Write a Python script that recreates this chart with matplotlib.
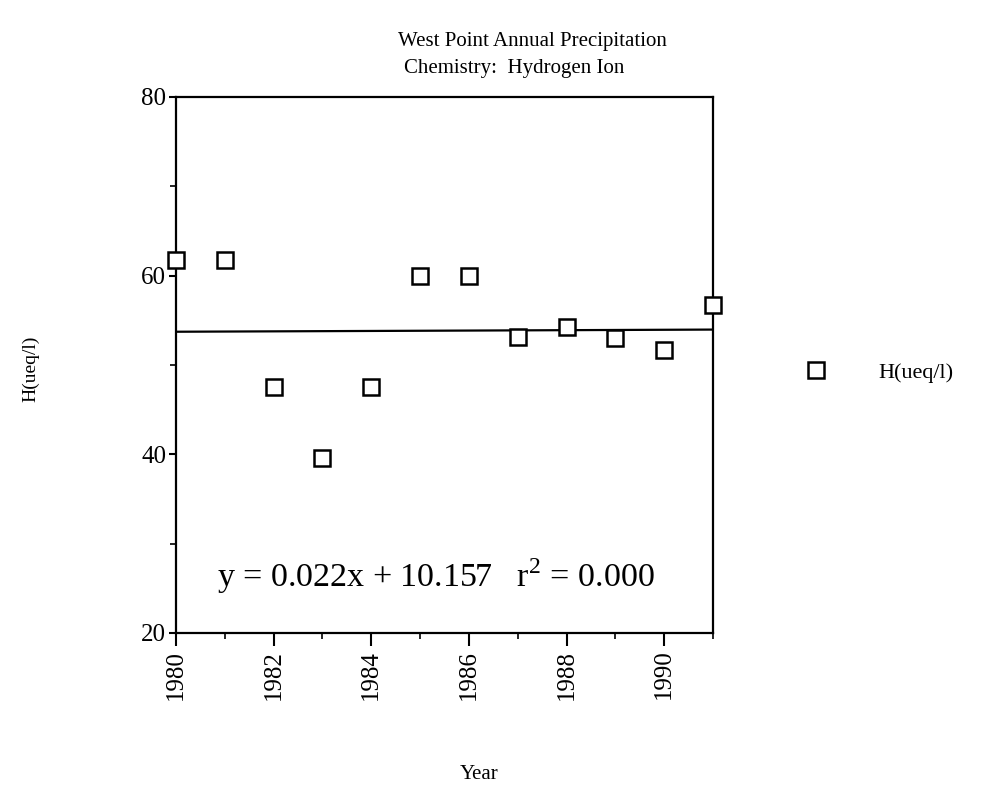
import matplotlib
matplotlib.use("Agg")
import matplotlib.pyplot as plt
from matplotlib.ticker import MultipleLocator

# values
years = [1980, 1981, 1982, 1983, 1984, 1985, 1986, 1987, 1988, 1989, 1990, 1991]
h_ueq = [61.7, 61.7, 47.5, 39.6, 47.5, 59.9, 59.9, 53.1, 54.3, 53.0, 51.7, 56.7]
slope = 0.022
intercept = 10.157
r2 = 0.000

plt.rcParams['font.family'] = ['Liberation Serif', 'DejaVu Serif']
plt.rcParams['mathtext.fontset'] = 'custom'
plt.rcParams['mathtext.rm'] = 'Liberation Serif'


def main():
    fig = plt.figure(figsize=(9.81, 8.11), dpi=100)
    ax = fig.add_axes([0.1794, 0.2195, 0.5474, 0.661])

    # regression line over the year range
    fit_x = [years[0], years[-1]]
    fit_y = [slope * x + intercept for x in fit_x]
    ax.plot(fit_x, fit_y, color='black', lw=1.6, zorder=2)

    ax.plot(years, h_ueq, linestyle='none', marker='s', markersize=12,
            markerfacecolor='white', markeredgecolor='black',
            markeredgewidth=1.8, clip_on=False, zorder=3, label='H(ueq/l)')

    ax.set_xlim(1980, 1991)
    ax.set_ylim(20, 80)
    ax.xaxis.set_major_locator(MultipleLocator(2))
    ax.xaxis.set_minor_locator(MultipleLocator(1))
    ax.yaxis.set_major_locator(MultipleLocator(20))
    ax.yaxis.set_minor_locator(MultipleLocator(10))
    ax.tick_params(axis='y', which='major', direction='out', length=5,
                   width=1.5, labelsize=18, pad=2)
    ax.tick_params(axis='x', which='major', direction='out', length=9,
                   width=1.5, labelsize=18, pad=3, labelrotation=90)
    ax.tick_params(which='minor', direction='out', length=4, width=1.2)
    for sp in ax.spines.values():
        sp.set_linewidth(1.6)

    ax.text(1980.85, 26.4,
            f'y = {slope:.3f}x + {intercept:.3f}   r$^2$ = {r2:.3f}',
            fontsize=24.5, va='center', ha='left')

    fig.text(0.406, 0.949, 'West Point Annual Precipitation',
             fontsize=15, ha='left', va='center')
    fig.text(0.412, 0.916, 'Chemistry:  Hydrogen Ion',
             fontsize=15, ha='left', va='center')

    fig.text(0.031, 0.545, 'H(ueq/l)', rotation=90, fontsize=14,
             ha='center', va='center')
    fig.text(0.488, 0.045, 'Year', fontsize=15, ha='center', va='center')

    ax.legend(loc='center left', bbox_to_anchor=(0.80, 0.541),
              bbox_transform=fig.transFigure, frameon=False,
              fontsize=16, handletextpad=2.3, handlelength=1.0)

    fig.savefig('out.png', dpi=100, facecolor='white')
    plt.close(fig)


if __name__ == "__main__":
    main()
